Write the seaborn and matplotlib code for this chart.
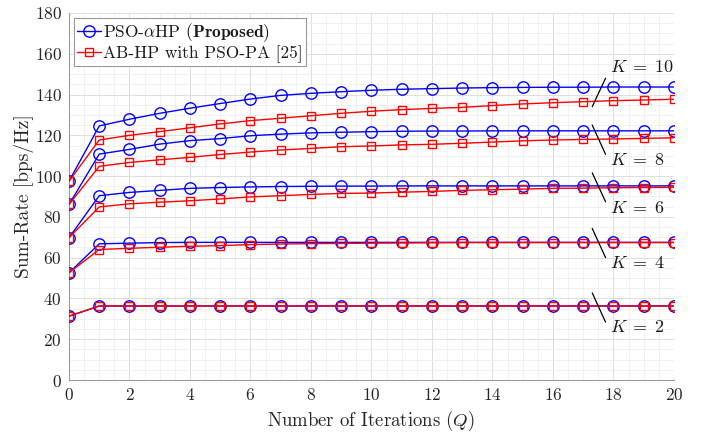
import matplotlib
matplotlib.use("Agg")
import matplotlib.pyplot as plt
from matplotlib.lines import Line2D
from matplotlib.ticker import MultipleLocator
import numpy as np
import pandas as pd
import seaborn as sns

# ---------------- data ----------------
iterations = list(range(0, 21))
K_values = [10, 8, 6, 4, 2]

proposed_K10 = [97.5, 124.6, 127.9, 130.8, 133.3, 135.6, 137.8, 139.6, 140.6, 141.4, 142.1,
                142.6, 142.9, 143.2, 143.4, 143.5, 143.6, 143.6, 143.7, 143.7, 143.7]
baseline_K10 = [97.5, 117.7, 120.0, 121.8, 123.7, 125.6, 127.2, 128.4, 129.6, 130.8, 131.8,
                132.6, 133.2, 133.7, 134.6, 135.4, 136.0, 136.5, 137.0, 137.3, 137.7]
proposed_K8 = [86.1, 110.8, 113.1, 115.7, 117.4, 118.4, 119.8, 120.6, 121.2, 121.5, 121.8,
               122.0, 122.1, 122.1, 122.2, 122.2, 122.2, 122.2, 122.2, 122.2, 122.2]
baseline_K8 = [86.1, 104.8, 106.7, 108.0, 109.2, 110.6, 111.8, 112.8, 113.6, 114.4, 114.8,
               115.3, 115.6, 116.1, 116.7, 117.3, 117.7, 118.0, 118.2, 118.5, 118.8]
proposed_K6 = [69.8, 90.4, 92.0, 93.0, 94.0, 94.4, 94.7, 94.9, 95.0, 95.1, 95.1,
               95.2, 95.2, 95.2, 95.2, 95.2, 95.2, 95.2, 95.2, 95.2, 95.2]
baseline_K6 = [69.8, 84.9, 86.4, 87.2, 87.9, 88.8, 89.8, 90.4, 91.0, 91.5, 91.7,
               92.1, 92.5, 93.0, 93.3, 93.6, 94.0, 94.1, 94.3, 94.4, 94.5]
proposed_K4 = [52.6, 66.8, 67.1, 67.4, 67.5, 67.5, 67.5, 67.5, 67.5, 67.5, 67.5,
               67.5, 67.5, 67.5, 67.5, 67.5, 67.5, 67.5, 67.5, 67.5, 67.5]
baseline_K4 = [52.6, 64.0, 64.6, 65.1, 65.6, 65.9, 66.4, 66.7, 66.9, 67.0, 67.1,
               67.2, 67.3, 67.4, 67.4, 67.4, 67.4, 67.4, 67.4, 67.4, 67.4]
proposed_K2 = [31.3, 36.3, 36.3, 36.3, 36.3, 36.3, 36.3, 36.3, 36.3, 36.3, 36.3,
               36.3, 36.3, 36.3, 36.3, 36.3, 36.3, 36.3, 36.3, 36.3, 36.3]
baseline_K2 = [31.3, 36.3, 36.3, 36.3, 36.3, 36.3, 36.3, 36.3, 36.3, 36.3, 36.3,
               36.3, 36.3, 36.3, 36.3, 36.3, 36.3, 36.3, 36.3, 36.3, 36.3]

proposed_label = r"PSO-$\alpha$HP ($\mathbf{Proposed}$)"
baseline_label = r"AB-HP with PSO-PA [25]"

proposed = {10: proposed_K10, 8: proposed_K8, 6: proposed_K6, 4: proposed_K4, 2: proposed_K2}
baseline = {10: baseline_K10, 8: baseline_K8, 6: baseline_K6, 4: baseline_K4, 2: baseline_K2}

rows = []
for method, table in [(proposed_label, proposed), (baseline_label, baseline)]:
    for k in K_values:
        for q, v in zip(iterations, table[k]):
            rows.append({"Q": q, "rate": v, "method": method, "K": k})
df = pd.DataFrame(rows)

# ---------------- style ----------------
sns.set_theme(style="white")
plt.rcParams["font.family"] = ["cmr10", "DejaVu Serif"]
plt.rcParams["mathtext.fontset"] = "cm"
plt.rcParams["axes.formatter.use_mathtext"] = True
plt.rcParams["axes.unicode_minus"] = False

fig = plt.figure(figsize=(7.02, 4.33), dpi=100)
ax = fig.add_axes([0.0983, 0.1224, 0.8617, 0.8476])

styles = {proposed_label: dict(color="#0000ff", marker="o", ms=8.2),
          baseline_label: dict(color="#ff0000", marker="s", ms=6.2)}

for method in [proposed_label, baseline_label]:
    st = styles[method]
    sub = df[df["method"] == method]
    sns.lineplot(data=sub, x="Q", y="rate", units="K", estimator=None, ax=ax,
                 color=st["color"], marker=st["marker"], markersize=st["ms"],
                 markerfacecolor="none", markeredgecolor=st["color"],
                 markeredgewidth=1.0, linewidth=1.0, legend=False, zorder=3)

# annotations (K labels)
ann = [(10, (17.30, 134.1), (17.74, 148.0), (17.88, 153.5)),
       (8, (17.30, 125.0), (17.74, 110.7), (17.88, 107.9)),
       (6, (17.30, 101.6), (17.74, 87.4), (17.88, 84.6)),
       (4, (17.30, 74.3), (17.74, 60.0), (17.88, 57.4)),
       (2, (17.30, 42.7), (17.74, 28.4), (17.88, 26.0))]
for k, p0, p1, pt in ann:
    ax.annotate("", xy=p1, xytext=p0,
                arrowprops=dict(arrowstyle="-", color="black", lw=0.9,
                                shrinkA=0, shrinkB=0), zorder=4)
    ax.text(pt[0], pt[1], rf"$K\;=\;{k}$", fontsize=13, va="center", ha="left",
            color="#1a1a1a", zorder=4)

# axes
ax.set_xlim(0, 20)
ax.set_ylim(0, 180)
ax.xaxis.set_major_locator(MultipleLocator(2))
ax.yaxis.set_major_locator(MultipleLocator(20))
ax.xaxis.set_minor_locator(MultipleLocator(0.5))
ax.yaxis.set_minor_locator(MultipleLocator(5))
ax.grid(which="major", color="#dedede", linewidth=0.7, zorder=0)
ax.grid(which="minor", color="#efefef", linewidth=0.6, zorder=0)
ax.set_axisbelow(True)
for s in ["top", "right"]:
    ax.spines[s].set_visible(False)
for s in ["left", "bottom"]:
    ax.spines[s].set_color("#9a9a9a")
    ax.spines[s].set_linewidth(0.8)
ax.tick_params(which="major", direction="in", length=4, width=0.7,
               color="#9a9a9a", labelsize=12.5, labelcolor="#262626", pad=5)
ax.tick_params(which="minor", length=0)

ax.set_xlabel(r"Number of Iterations ($Q$)", fontsize=13.5, color="#262626", labelpad=4)
ax.set_ylabel(r"Sum-Rate [bps/Hz]", fontsize=14, color="#262626")
ax.yaxis.set_label_coords(-0.058, 0.5)

handles = [Line2D([0], [0], color="#0000ff", marker="o", ms=8.2, mfc="none",
                  mec="#0000ff", mew=1.0, lw=1.0),
           Line2D([0], [0], color="#ff0000", marker="s", ms=6.2, mfc="none",
                  mec="#ff0000", mew=1.0, lw=1.0)]
leg = ax.legend(handles, [proposed_label, baseline_label], loc="upper left",
                bbox_to_anchor=(0.008, 0.986), fontsize=12.5, frameon=True,
                fancybox=False, edgecolor="#9a9a9a", framealpha=1,
                handlelength=1.35, handletextpad=0.15, borderpad=0.2,
                labelspacing=0.05, borderaxespad=0.0)
leg.get_frame().set_linewidth(0.8)
for t in leg.get_texts():
    t.set_color("#1a1a1a")

fig.savefig("out.png", dpi=100)
